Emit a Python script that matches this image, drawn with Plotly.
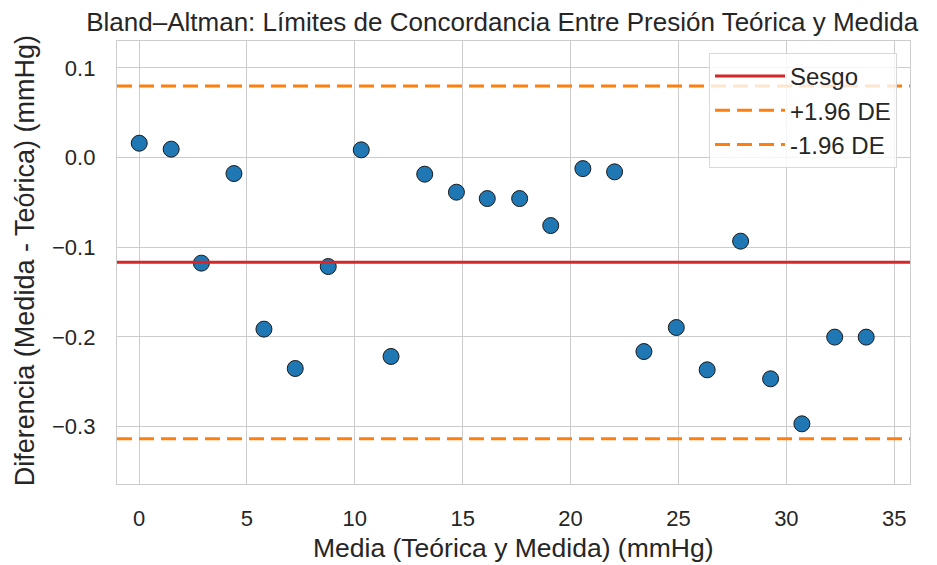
import numpy as np
import plotly.graph_objects as go

media = [0.01, 1.49, 2.89, 4.40, 5.79, 7.24, 8.77, 10.30, 11.68, 13.24, 14.71, 16.14,
         17.64, 19.08, 20.57, 22.04, 23.40, 24.90, 26.33, 27.88, 29.27, 30.72, 32.24, 33.70]
diferencia = [0.016, 0.0094, -0.1177, -0.0178, -0.1913, -0.2352, -0.1215, 0.0086, -0.2218,
              -0.0185, -0.0386, -0.0457, -0.0457, -0.0758, -0.0123, -0.0159, -0.2163, -0.1895,
              -0.2367, -0.0932, -0.2467, -0.2969, -0.2002, -0.2002]

sesgo = float(np.mean(diferencia))
de = float(np.std(diferencia, ddof=1))
lim_sup = sesgo + 1.96 * de
lim_inf = sesgo - 1.96 * de

x_ticks = [0, 5, 10, 15, 20, 25, 30, 35]
y_ticks = [0.1, 0.0, -0.1, -0.2, -0.3]

FONT = "Liberation Sans, Arial, sans-serif"
TXT = "#262626"
GRID = "#cccccc"

fig = go.Figure()
fig.add_trace(go.Scatter(
    x=media, y=diferencia, mode="markers", showlegend=False,
    marker=dict(size=16, color="#1f77b4", line=dict(color="#1a1a1a", width=1)),
))

fig.add_hline(y=sesgo, line=dict(color="#d62728", width=3), name="Sesgo", showlegend=True, layer="above")
fig.add_hline(y=lim_sup, line=dict(color="#ff7f0e", width=3, dash="15px,7px"), name="+1.96 DE", showlegend=True, layer="above")
fig.add_hline(y=lim_inf, line=dict(color="#ff7f0e", width=3, dash="15px,7px"), name="-1.96 DE", showlegend=True, layer="above")

fig.update_layout(
    width=929, height=557,
    margin=dict(l=109, r=27, t=33, b=81, autoexpand=False),
    paper_bgcolor="white", plot_bgcolor="white",
    font=dict(family=FONT, color=TXT, size=22),
    title=dict(text="Bland–Altman: Límites de Concordancia Entre Presión Teórica y Medida",
               x=0.532, xref="container", xanchor="center", y=0.975, yref="container", yanchor="middle",
               font=dict(size=26, color=TXT)),
    legend=dict(x=0.9836, y=0.973, xanchor="right", yanchor="top",
                bgcolor="rgba(255,255,255,0.8)", bordercolor="#d9d9d9", borderwidth=1,
                itemwidth=70, font=dict(size=24, color=TXT)),
    annotations=[
        dict(text="Media (Teórica y Medida) (mmHg)", xref="paper", yref="paper",
             x=0.5, y=-0.1445, xanchor="center", yanchor="middle", showarrow=False,
             font=dict(size=26.5, color=TXT)),
        dict(text="Diferencia (Medida - Teórica) (mmHg)", xref="paper", yref="paper",
             x=-0.116, y=0.503, xanchor="center", yanchor="middle", showarrow=False,
             textangle=-90, font=dict(size=27, color=TXT)),
    ],
)
fig.update_xaxes(range=[-1.02, 35.73], tickvals=x_ticks, ticktext=[str(v) for v in x_ticks],
                 showgrid=True, gridcolor=GRID, gridwidth=1.3, zeroline=False,
                 showline=True, linecolor=GRID, linewidth=1.3, mirror=True,
                 ticks="", ticklen=0, ticklabelstandoff=14, automargin=False)
fig.update_yaxes(range=[-0.364, 0.130], tickvals=y_ticks, tickformat=".1f",
                 showgrid=True, gridcolor=GRID, gridwidth=1.3, zeroline=False,
                 showline=True, linecolor=GRID, linewidth=1.3, mirror=True,
                 ticks="", ticklen=0, ticklabelstandoff=16, automargin=False)

fig.write_html("out.html")
